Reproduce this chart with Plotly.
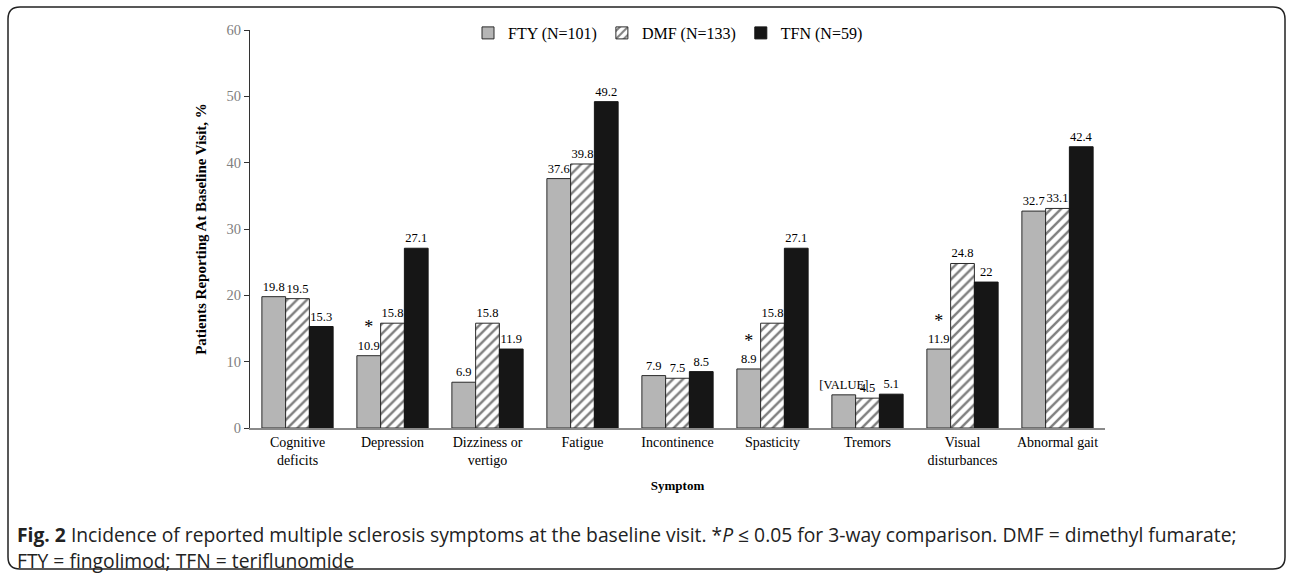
import plotly.graph_objects as go

categories = ["Cognitive<br>deficits", "Depression", "Dizziness or<br>vertigo", "Fatigue",
              "Incontinence", "Spasticity", "Tremors", "Visual<br>disturbances", "Abnormal gait"]
fty = [19.8, 10.9, 6.9, 37.6, 7.9, 8.9, 5.0, 11.9, 32.7]
dmf = [19.5, 15.8, 15.8, 39.8, 7.5, 15.8, 4.5, 24.8, 33.1]
tfn = [15.3, 27.1, 11.9, 49.2, 8.5, 27.1, 5.1, 22.0, 42.4]
star = "<span style='font-size:18px'>*</span><br>"
fty_labels = ["19.8", star + "10.9", "6.9", "37.6", "7.9", star + "8.9", "[VALUE]", star + "11.9", "32.7"]
dmf_labels = ["19.5", "15.8", "15.8", "39.8", "7.5", "15.8", "4.5", "24.8", "33.1"]
tfn_labels = ["15.3", "27.1", "11.9", "49.2", "8.5", "27.1", "5.1", "22", "42.4"]
series_names = ["FTY (N=101)", "DMF (N=133)", "TFN (N=59)"]

W, H = 1292, 576
L, R, T, B = 250, 1105, 30, 428
serif = "Liberation Serif"

fig = go.Figure()
common = dict(textposition="outside", constraintext="none", cliponaxis=False,
              textfont=dict(family=serif, size=12.5, color="black"))
fig.add_trace(go.Bar(x=categories, y=fty, name=series_names[0], text=fty_labels,
                     marker=dict(color="#b5b5b5", line=dict(color="#2a2a2a", width=1)), **common))
fig.add_trace(go.Bar(x=categories, y=dmf, name=series_names[1], text=dmf_labels,
                     marker=dict(color="white", line=dict(color="#2a2a2a", width=1),
                                 pattern=dict(shape="/", fgcolor="black", bgcolor="white",
                                              size=7, solidity=0.35)), **common))
fig.add_trace(go.Bar(x=categories, y=tfn, name=series_names[2], text=tfn_labels,
                     marker=dict(color="#161616", line=dict(color="#161616", width=1)), **common))

def px_x(p):
    return (p - L) / (R - L)

def px_y(p):
    return (B - p) / (B - T)

# rounded border around the whole figure
x0, x1, y0, y1, r = 8, 1285, 7, 569, 12
path = (f"M {px_x(x0 + r)},{px_y(y0)} L {px_x(x1 - r)},{px_y(y0)} "
        f"Q {px_x(x1)},{px_y(y0)} {px_x(x1)},{px_y(y0 + r)} "
        f"L {px_x(x1)},{px_y(y1 - r)} Q {px_x(x1)},{px_y(y1)} {px_x(x1 - r)},{px_y(y1)} "
        f"L {px_x(x0 + r)},{px_y(y1)} Q {px_x(x0)},{px_y(y1)} {px_x(x0)},{px_y(y1 - r)} "
        f"L {px_x(x0)},{px_y(y0 + r)} Q {px_x(x0)},{px_y(y0)} {px_x(x0 + r)},{px_y(y0)} Z")
fig.add_shape(type="path", path=path, xref="paper", yref="paper",
              line=dict(color="#222222", width=1.5), fillcolor="rgba(0,0,0,0)")

caption1 = ("<b>Fig. 2</b> Incidence of reported multiple sclerosis symptoms at the baseline visit. "
            "*<i>P</i> ≤ 0.05 for 3-way comparison. DMF = dimethyl fumarate;")
caption2 = "FTY = fingolimod; TFN = teriflunomide"
for txt, yy in [(caption1, 534), (caption2, 560)]:
    fig.add_annotation(text=txt, xref="paper", yref="paper", x=px_x(15), y=px_y(yy),
                       xanchor="left", yanchor="middle", showarrow=False,
                       font=dict(family="Open Sans", size=19.3, color="#222222"))

fig.update_layout(
    width=W, height=H,
    margin=dict(l=L, r=W - R, t=T, b=H - B, pad=0),
    paper_bgcolor="white", plot_bgcolor="white",
    barmode="group", bargap=0.25, bargroupgap=0,
    showlegend=True,
    legend=dict(orientation="h", x=px_x(668), y=px_y(33), xanchor="center", yanchor="middle",
                font=dict(family=serif, size=16, color="black"), itemwidth=30,
                bgcolor="rgba(0,0,0,0)"),
    font=dict(family=serif),
)
fig.update_yaxes(range=[0, 60], dtick=10, showgrid=False, zeroline=False,
                 showline=True, linecolor="#333333", linewidth=1,
                 ticks="outside", ticklen=5, tickcolor="#333333",
                 tickfont=dict(family=serif, size=14.5, color="#808080"),
                 title=dict(text="<b>Patients Reporting At Baseline Visit, %</b>",
                            font=dict(family=serif, size=15, color="black"), standoff=16))
fig.update_xaxes(showgrid=False, showline=True, linecolor="#8a8a8a", linewidth=1.5,
                 ticks="", tickfont=dict(family=serif, size=14, color="black"),
                 title=dict(text="<b>Symptom</b>", font=dict(family=serif, size=13, color="black"),
                            standoff=14))

fig.write_html("out.html", config={"displayModeBar": False},
               post_script="document.body.style.margin='0';")
